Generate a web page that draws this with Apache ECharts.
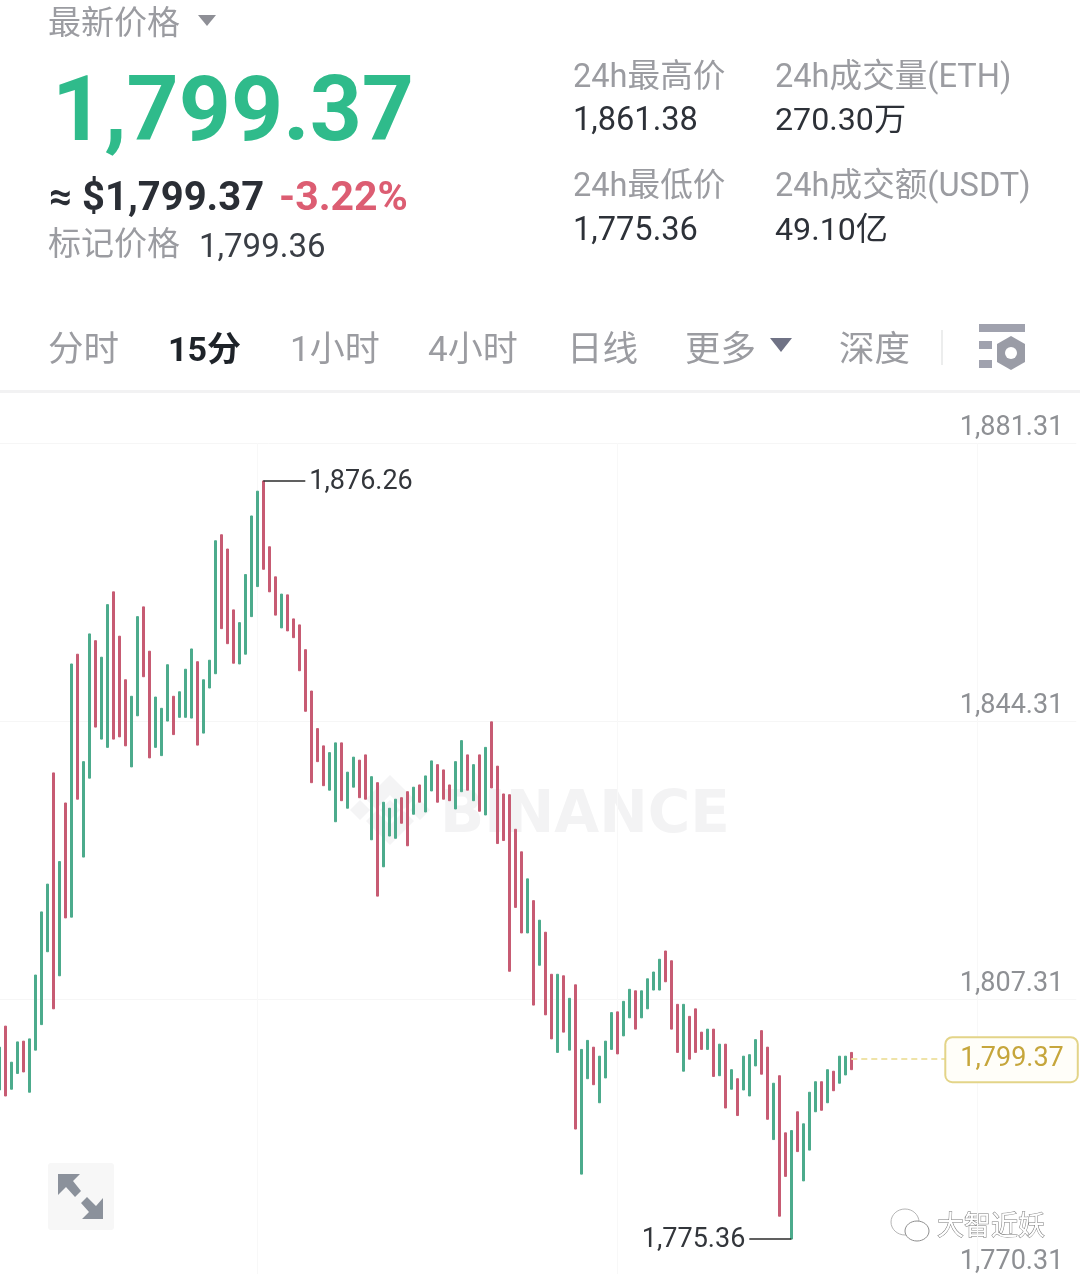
<!DOCTYPE html>
<html><head><meta charset="utf-8">
<style>html,body{margin:0;padding:0;background:#fff}#c{width:1080px;height:1274px}</style>
<script src="https://cdn.jsdelivr.net/npm/echarts@6/dist/echarts.min.js"></script>
</head><body><div id="c"></div>
<script>
const opens=[1795.2,1803.7,1795.3,1797.4,1801.7,1794.9,1800.5,1803.9,1813.6,1837.4,1810.4,1833.4,1818.2,1853.2,1826.2,1836.7,1855.0,1841.9,1840.8,1861.5,1855.6,1849.8,1838.2,1845.0,1859.5,1853.6,1840.8,1839.7,1844.3,1847.6,1844.8,1844.8,1844.7,1852.2,1842.7,1848.7,1850.6,1869.1,1867.2,1859.1,1851.9,1853.2,1858.2,1862.2,1876.26,1867.5,1863.5,1856.7,1861.1,1857.9,1857.1,1853.8,1848.3,1843.3,1841.0,1835.1,1830.9,1841.4,1832.7,1835.5,1839.1,1839.8,1828.5,1836.1,1824.9,1829.0,1828.7,1834.1,1834.9,1831.9,1835.8,1832.2,1835.0,1838.5,1837.8,1835.8,1832.6,1834.9,1839.8,1833.7,1839.8,1831.8,1844.2,1838.3,1834.6,1834.5,1829.9,1826.9,1816.1,1820.4,1811.8,1816.2,1810.6,1800.2,1810.4,1800.5,1809.2,1784.0,1796.7,1800.9,1793.5,1796.8,1800.6,1805.6,1802.4,1804.8,1808.4,1804.8,1806.0,1808.5,1808.5,1813.7,1812.4,1806.6,1797.7,1805.0,1806.0,1802.9,1800.6,1803.3,1797.1,1801.3,1795.3,1796.7,1795.2,1794.4,1798.4,1803.1,1800.9,1788.6,1797.1,1789.5,1775.36,1792.3,1783.1,1787.2,1792.3,1796.3,1793.5,1797.7,1796.1,1797.2,1800.2];
const closes=[1800.9,1794.4,1798.9,1801.6,1797.6,1802.0,1810.5,1818.9,1822.6,1806.0,1825.6,1818.1,1851.9,1833.9,1838.9,1855.9,1843.5,1852.8,1859.8,1841.9,1842.2,1841.0,1847.6,1858.2,1850.2,1839.4,1847.5,1846.0,1851.8,1842.5,1848.2,1851.2,1853.9,1841.1,1849.8,1852.4,1868.3,1856.6,1854.6,1852.0,1857.4,1863.8,1871.6,1874.9,1864.5,1861.5,1858.4,1861.2,1856.3,1855.4,1851.0,1845.6,1836.1,1838.9,1835.7,1840.1,1841.4,1833.7,1837.5,1839.5,1834.1,1833.9,1836.9,1821.0,1833.5,1832.7,1833.9,1830.7,1827.7,1835.5,1833.5,1837.0,1839.0,1833.5,1833.9,1833.7,1838.9,1841.7,1835.1,1838.5,1832.3,1840.8,1835.4,1828.0,1828.4,1811.0,1819.5,1816.1,1823.3,1806.5,1817.8,1805.2,1802.0,1810.6,1802.9,1807.4,1790.0,1800.6,1801.8,1795.9,1799.7,1801.7,1805.5,1800.0,1807.0,1808.6,1803.3,1808.4,1810.0,1810.9,1812.6,1809.6,1803.3,1800.2,1806.6,1799.3,1800.2,1800.6,1803.3,1797.0,1801.3,1792.8,1797.9,1791.8,1799.7,1799.9,1801.9,1797.3,1791.3,1796.1,1778.4,1783.7,1789.8,1787.0,1790.7,1794.9,1796.3,1792.5,1797.9,1795.1,1799.7,1799.7,1797.9];
const priceTicks=[1770.31,1807.31,1844.31,1881.31];
const yMin=1770.31, yMax=1881.31;
const slotCount=180;
const verticalLineSlots=[43,103,163];
const highPoint={slot:44,labelSlot:51,value:1876.26};
const lowPoint={slot:132,labelSlot:125,value:1775.36};
const lastPrice={slot:142,labelSlot:158,value:1799.37};

const slots=Array.from({length:slotCount},(_,i)=>String(i));
const rows=opens.map((o,i)=>[o,closes[i],Math.min(o,closes[i]),Math.max(o,closes[i])]);
const fmt=v=>Number(v).toLocaleString('en-US',{minimumFractionDigits:2,maximumFractionDigits:2});

const LAT='Roboto,"Noto Sans CJK SC",sans-serif';
const GR='#9b9ca1', DK='#2a2e35', UP='#4cab8c', DN='#c75b73';
const t=(x,y,text,size,fill,weight,extra)=>({type:'text',x,y,silent:true,style:Object.assign({text,fill,font:(weight||'normal')+' '+size+'px '+LAT,textAlign:'left',textVerticalAlign:'middle'},extra||{})});
const tri=(pts,fill)=>({type:'polygon',silent:true,shape:{points:pts},style:{fill}});
const rect=(x,y,w,h,fill,r)=>({type:'rect',silent:true,shape:{x,y,width:w,height:h,r:r||0},style:{fill}});
const WM='#f4f4f5';

const graphicEls=[
 // watermark
 tri([[390,775],[414,799],[404,809],[390,795],[376,809],[366,799]],WM),
 tri([[390,845],[414,821],[404,811],[390,825],[376,811],[366,821]],WM),
 tri([[390,800],[400,810],[390,820],[380,810]],WM),
 tri([[360,800],[370,810],[360,820],[350,810]],WM),
 tri([[420,800],[430,810],[420,820],[410,810]],WM),
 {type:'text',x:440,y:817,silent:true,style:{text:'BINANCE',fill:'#f3f3f4',font:'bold 58px "DejaVu Sans"',textAlign:'left',textVerticalAlign:'middle'}},
 // rules
 rect(0,390,1080,3,'#f2f2f3'),
 rect(941,330,2,35,'#eceded'),
 // header
 t(48,26,'最新价格',33,GR),
 tri([[198,15],[216,15],[207,26]],'#8e8f96'),
 t(52,117,'1,799.37',91,'#2fbb8b','bold'),
 t(49,200,'≈ $1,799.37',40,DK,'bold'),
 t(279,200,'-3.22%',41,'#dc5d72','bold'),
 t(48,247,'标记价格',33,GR),
 t(199,249,'1,799.36',33,'#3a3e45'),
 t(573,79,'24h最高价',32.6,GR),
 t(573,122,'1,861.38',32.6,'#2d3138'),
 t(775,79,'24h成交量(ETH)',32.6,GR),
 t(775,122,'270.30万',32.2,'#2d3138'),
 t(573,188,'24h最低价',32.6,GR),
 t(573,232,'1,775.36',32.6,'#2d3138'),
 t(775,188,'24h成交额(USDT)',32.6,GR),
 t(775,232,'49.10亿',32.2,'#2d3138'),
 // tabs
 t(48,352,'分时',35.5,GR),
 t(168,352,'15分',34,'#1e2329','bold'),
 t(290,352,'1小时',35,GR),
 t(428,352,'4小时',35,GR),
 t(567,352,'日线',35.5,GR),
 t(685,352,'更多',35.5,GR),
 tri([[770,338],[792,338],[781,352]],'#6f7285'),
 t(839,352,'深度',35.5,GR),
 // settings icon
 rect(979,324,46,8,'#a0a2ae'),
 rect(979,341,13,8,'#a0a2ae'),
 rect(979,360,13,8,'#a0a2ae'),
 tri([[1011,336],[1025,344],[1025,362],[1011,370],[997,362],[997,344]],'#9a9ca6'),
 {type:'circle',silent:true,shape:{cx:1011,cy:353,r:6},style:{fill:'#fff'}},
 // expand button
 rect(48,1163,66,67,'#f7f7f7',3),
 tri([[58,1174],[80,1174],[73,1181],[81,1191],[75,1197],[66,1187],[58,1195]],'#8b919b'),
 tri([[103,1219],[82,1219],[89,1212],[81,1203],[87,1197],[96,1206],[103,1198]],'#8b919b'),
 // wechat mark
 {type:'ellipse',silent:true,shape:{cx:905,cy:1222,rx:14,ry:13},style:{fill:'#fff',stroke:'#b5b5b5',lineWidth:1}},
 {type:'ellipse',silent:true,shape:{cx:917,cy:1231,rx:12,ry:10},style:{fill:'#fff',stroke:'#8e8e8e',lineWidth:1}},
 t(937,1228,'大智近妖',27,'#ffffff','normal',{stroke:'#7a7a7a',lineWidth:1}),
];

const option={
 animation:false,
 backgroundColor:'#ffffff',
 graphic:{elements:graphicEls},
 grid:{left:-3.7,top:443,width:1080,height:834,containLabel:false,outerBoundsMode:'none'},
 xAxis:{type:'category',data:slots,boundaryGap:true,
  axisLine:{show:false},axisLabel:{show:false},
  axisTick:{show:false,alignWithLabel:true},
  splitLine:{show:true,alignWithLabel:true,interval:(i)=>verticalLineSlots.includes(i),lineStyle:{color:'#f8f8f8',width:1}}},
 yAxis:{type:'value',position:'right',min:yMin,max:yMax,
  axisLine:{show:false},
  axisTick:{show:false,customValues:priceTicks},
  splitLine:{show:true,lineStyle:{color:'#f6f6f6',width:1}},
  axisLabel:{inside:true,margin:13,customValues:priceTicks,showMinLabel:true,showMaxLabel:true,hideOverlap:false,
   formatter:fmt,fontFamily:'Roboto',fontSize:27,color:'#8e9094',verticalAlign:'bottom',lineHeight:30,align:'right'}},
 series:[{
  type:'candlestick',data:rows,barWidth:3,silent:true,
  itemStyle:{color:UP,color0:DN,borderColor:UP,borderColor0:DN,borderWidth:1},
  markLine:{silent:true,symbol:'none',animation:false,precision:2,
   data:[
    [{coord:[highPoint.slot,highPoint.value],lineStyle:{color:'#2b2b2b',width:1.5,type:'solid'},
      label:{show:true,position:'end',distance:4,offset:[0,1],formatter:()=>fmt(highPoint.value),fontFamily:'Roboto',fontSize:27,color:'#33363b'}},
     {coord:[highPoint.labelSlot,highPoint.value]}],
    [{coord:[lowPoint.slot,lowPoint.value],lineStyle:{color:'#2b2b2b',width:1.5,type:'solid'},
      label:{show:true,position:'end',distance:4,offset:[0,1],formatter:()=>fmt(lowPoint.value),fontFamily:'Roboto',fontSize:27,color:'#33363b'}},
     {coord:[lowPoint.labelSlot,lowPoint.value]}],
    [{coord:[lastPrice.slot,lastPrice.value],lineStyle:{color:'#efe3a8',width:2,type:[6,4]},
      label:{show:true,position:'end',distance:-1,offset:[0,1],formatter:()=>fmt(lastPrice.value),fontFamily:'Roboto',fontSize:27,color:'#c6a63c',
       backgroundColor:'#fffef9',borderColor:'#e3d488',borderWidth:2,borderRadius:6,padding:[9,13,7,14]}},
     {coord:[lastPrice.labelSlot,lastPrice.value]}]
   ]}
 }]
};
echarts.init(document.getElementById('c'),null,{renderer:'canvas'}).setOption(option);
</script></body></html>
